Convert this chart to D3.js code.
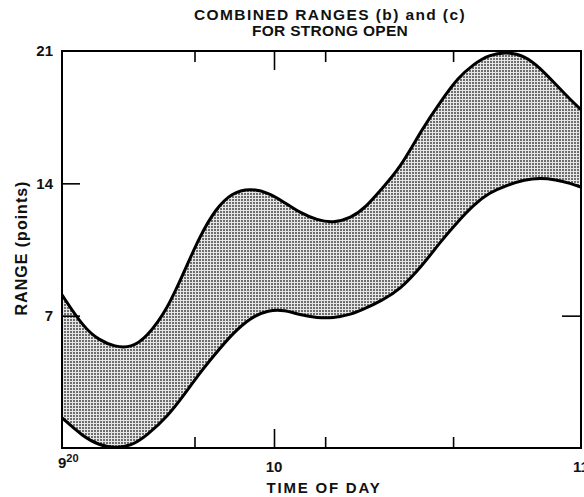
<!DOCTYPE html>
<html>
<head>
<meta charset="utf-8">
<script src="https://cdn.jsdelivr.net/npm/d3@7"></script>
<style>
  body { margin: 0; background: #fff; }
  text { font-family: "Liberation Sans", Arial, Helvetica, sans-serif; fill: #111; }
</style>
</head>
<body>
<svg id="chart" width="584" height="497"></svg>
<script>
// Time of day, in minutes after 9:00
const minutes = [20, 24, 27, 30, 33, 36, 40, 43, 46, 49, 52, 55.5, 59, 62, 65, 68.5, 71.5, 75, 78, 81,
                 84.5, 89, 92.5, 96, 99, 102, 105.5, 109, 112, 115, 118, 120];
// Upper edge of the combined range (points)
const upperRange = [8.1, 6.4, 5.7, 5.35, 5.3, 5.85, 7.4, 9.3, 11.2, 12.65, 13.5, 13.75, 13.5, 13.0, 12.45, 12.05,
                    11.9, 12.15, 12.75, 13.7, 14.75, 16.9, 18.3, 19.6, 20.3, 20.8, 20.95, 20.75, 20.1, 19.25, 18.4, 17.9];
// Lower edge of the combined range (points)
const lowerRange = [1.6, 0.6, 0.15, 0, 0.1, 0.65, 1.7, 2.8, 3.97, 5.0, 6.0, 6.9, 7.3, 7.3, 7.05, 6.88,
                    6.88, 7.05, 7.4, 7.8, 8.35, 9.65, 10.9, 12.0, 12.85, 13.5, 13.9, 14.2, 14.28, 14.2, 14.0, 13.8];

const xTickMinutes = [45, 60, 70, 95];
const xMajorTick = 60;
const xLabels = [
  { m: 20, base: "9", sup: "20" },
  { m: 60, base: "10" },
  { m: 120, base: "11" }
];
const yTickValues = [7, 14, 21];
const yRightTicks = [7];
const titleLines = ["COMBINED RANGES (b) and (c)", "FOR STRONG OPEN"];
const xTitle = "TIME OF DAY";
const yTitle = "RANGE (points)";

const W = 584, H = 497;
const margin = { top: 51, right: 3, bottom: 49, left: 62 };

const svg = d3.select("#chart");

// Time axis is drawn with a piecewise-linear scale (9:20 – 10:00 – 11:00)
const x = d3.scaleLinear()
  .domain([20, 60, 120])
  .range([margin.left, 274, W - margin.right]);
const y = d3.scaleLinear()
  .domain([0, 21])
  .range([H - margin.bottom, margin.top]);

const defs = svg.append("defs");

// Halftone stipple used for the band
const pat = defs.append("pattern")
  .attr("id", "stipple")
  .attr("patternUnits", "userSpaceOnUse")
  .attr("width", 3).attr("height", 3);
pat.append("rect").attr("width", 3).attr("height", 3).attr("fill", "#e6e6e6");
pat.append("rect").attr("x", 1).attr("y", 1).attr("width", 2).attr("height", 2).attr("fill", "#6e6e6e");

// Keep the band inside the frame
defs.append("clipPath").attr("id", "plotClip")
  .append("rect")
  .attr("x", x(20)).attr("y", y(21))
  .attr("width", x(120) - x(20)).attr("height", y(0) - y(21));

const rows = minutes.map((m, i) => ({ m, hi: upperRange[i], lo: lowerRange[i] }));

const curve = d3.curveBasis;

const area = d3.area()
  .x(d => x(d.m))
  .y0(d => y(d.lo))
  .y1(d => y(d.hi))
  .curve(curve);

const plot = svg.append("g").attr("clip-path", "url(#plotClip)");

plot.append("path")
  .datum(rows)
  .attr("d", area)
  .attr("fill", "url(#stipple)");

const upperLine = d3.line().x(d => x(d.m)).y(d => y(d.hi)).curve(curve);
const lowerLine = d3.line().x(d => x(d.m)).y(d => y(d.lo)).curve(curve);

plot.append("path").datum(rows).attr("d", upperLine)
  .attr("fill", "none").attr("stroke", "#000").attr("stroke-width", 3).attr("stroke-linejoin", "round");
plot.append("path").datum(rows).attr("d", lowerLine)
  .attr("fill", "none").attr("stroke", "#000").attr("stroke-width", 3).attr("stroke-linejoin", "round");

// Frame
svg.append("rect")
  .attr("x", x(20)).attr("y", y(21))
  .attr("width", x(120) - x(20)).attr("height", y(0) - y(21))
  .attr("fill", "none").attr("stroke", "#000").attr("stroke-width", 2);

// Inward ticks on the time axis (bottom and top)
const xTickLen = d => d === xMajorTick ? 19 : 11;

const bottomAxis = svg.append("g")
  .attr("transform", `translate(0,${y(0)})`)
  .call(d3.axisBottom(x).tickValues(xTickMinutes).tickSize(0).tickFormat(""));
bottomAxis.select(".domain").remove();
bottomAxis.selectAll(".tick line")
  .attr("y2", d => -xTickLen(d)).attr("stroke", "#000").attr("stroke-width", 1.6);

const topAxis = svg.append("g")
  .attr("transform", `translate(0,${y(21)})`)
  .call(d3.axisTop(x).tickValues(xTickMinutes).tickSize(0).tickFormat(""));
topAxis.select(".domain").remove();
topAxis.selectAll(".tick line")
  .attr("y2", d => xTickLen(d)).attr("stroke", "#000").attr("stroke-width", 1.6);

// Range axis (left, labelled) and right-hand ticks
const leftAxis = svg.append("g")
  .attr("transform", `translate(${x(20)},0)`)
  .call(d3.axisLeft(y).tickValues(yTickValues).tickSize(0).tickPadding(9).tickFormat(d3.format("d")));
leftAxis.select(".domain").remove();
leftAxis.selectAll(".tick line")
  .attr("x2", d => d === 21 ? 0 : 18).attr("stroke", "#000").attr("stroke-width", 1.6);
leftAxis.selectAll(".tick text")
  .attr("font-size", 15).attr("font-weight", "bold").attr("fill", "#111");

const rightAxis = svg.append("g")
  .attr("transform", `translate(${x(120)},0)`)
  .call(d3.axisRight(y).tickValues(yRightTicks).tickSize(0).tickFormat(""));
rightAxis.select(".domain").remove();
rightAxis.selectAll(".tick line")
  .attr("x2", -19).attr("stroke", "#000").attr("stroke-width", 1.6);

// Time labels
xLabels.forEach(l => {
  const t = svg.append("text")
    .attr("font-size", 15).attr("font-weight", "bold");
  if (l.sup) {
    t.attr("x", x(l.m) - 4).attr("y", 468).attr("text-anchor", "start");
    t.append("tspan").text(l.base);
    t.append("tspan").attr("font-size", 11).attr("dy", -6).text(l.sup);
  } else {
    t.attr("x", x(l.m)).attr("y", 472).attr("text-anchor", "middle").text(l.base);
  }
});

// Titles
svg.append("g").selectAll("text")
  .data(titleLines)
  .join("text")
  .attr("x", 330)
  .attr("y", (d, i) => 20 + i * 16)
  .attr("text-anchor", "middle")
  .attr("font-size", 15.5)
  .attr("font-weight", "bold")
  .attr("letter-spacing", (d, i) => i === 0 ? 1.4 : 0.3)
  .text(d => d);

svg.append("text")
  .attr("x", 324).attr("y", 493)
  .attr("text-anchor", "middle")
  .attr("font-size", 15).attr("font-weight", "bold")
  .attr("letter-spacing", 1.8)
  .text(xTitle);

svg.append("text")
  .attr("transform", `translate(27,248) rotate(-90)`)
  .attr("text-anchor", "middle")
  .attr("font-size", 16).attr("font-weight", "bold")
  .attr("letter-spacing", 1)
  .text(yTitle);
</script>
</body>
</html>
